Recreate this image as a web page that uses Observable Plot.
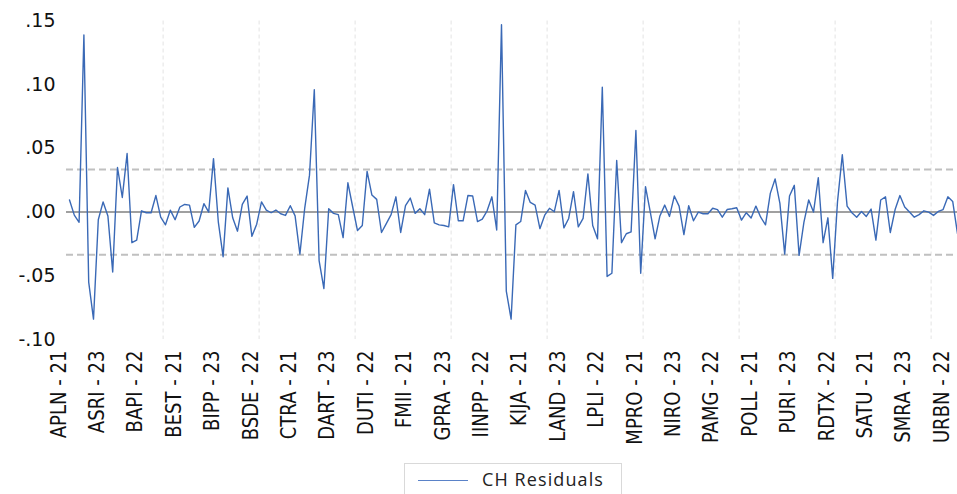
<!DOCTYPE html>
<html>
<head>
<meta charset="utf-8">
<script src="https://cdn.jsdelivr.net/npm/d3@7"></script>
<script src="https://cdn.jsdelivr.net/npm/@observablehq/plot@0.6"></script>
<style>
  html, body { margin: 0; padding: 0; background: #fff; overflow: hidden; }
  #wrap { position: relative; width: 957px; height: 494px; }
  #legend {
    position: absolute; left: 404px; top: 463px; width: 218px; height: 34px;
    border: 1px solid #d9d9d9; box-sizing: border-box; background: #fff;
    font-family: "Open Sans", sans-serif; font-size: 18px; color: #222;
  }
  #legend .sw { position: absolute; left: 13px; top: 16px; width: 50px; height: 0; border-top: 1.3px solid #5a82c8; }
  #legend .lb { position: absolute; left: 77px; top: 3px; letter-spacing: 1.1px; white-space: nowrap; }
</style>
</head>
<body>
<div id="wrap">
  <div id="chart"></div>
  <div id="legend"><div class="sw"></div><div class="lb">CH Residuals</div></div>
</div>
<script>
const residuals = [
  0.0095, -0.0024, -0.008, 0.139, -0.055, -0.084, -0.006, 0.008, -0.003, -0.047,
  0.035, 0.0115, 0.046, -0.024, -0.022, 0.001, -0.0005, -0.0005, 0.013, -0.004,
  -0.01, 0.0015, -0.006, 0.004, 0.006, 0.0055, -0.012, -0.007, 0.0066, 0,
  0.042, -0.0076, -0.035, 0.019, -0.0045, -0.015, 0.006, 0.0126, -0.019, -0.0095,
  0.008, 0.0016, -0.0005, 0.0016, -0.0013, -0.0026, 0.005, -0.003, -0.033, 0.003,
  0.029, 0.096, -0.038, -0.060, 0.0026, -0.001, -0.002, -0.020, 0.023, 0.004,
  -0.0145, -0.0105, 0.032, 0.0134, 0.010, -0.016, -0.009, -0.002, 0.012, -0.016,
  0.005, 0.011, -0.001, 0.0026, -0.002, 0.018, -0.0084, -0.010, -0.0105, -0.0116,
  0.0216, -0.0068, -0.0068, 0.013, 0.0126, -0.0074, -0.0055, 0.001, 0.012, -0.014,
  0.147, -0.062, -0.084, -0.010, -0.0074, 0.017, 0.0076, 0.0055, -0.013, -0.0024,
  0.003, 0.0003, 0.017, -0.0124, -0.005, 0.016, -0.0116, -0.005, 0.030, -0.0105,
  -0.021, 0.098, -0.0505, -0.048, 0.0405, -0.024, -0.017, -0.0155, 0.064, -0.048,
  0.020, 0, -0.021, -0.003, 0.0055, -0.0034, 0.0126, 0.0047, -0.0176, 0.005,
  -0.0068, 0, -0.0013, -0.0013, 0.003, 0.002, -0.004, 0.002, 0.0026, 0.0034,
  -0.0063, -0.0005, -0.0047, 0.0047, -0.004, -0.010, 0.0147, 0.026, 0.0068, -0.033,
  0.0126, 0.021, -0.034, -0.008, 0.0095, 0, 0.027, -0.024, -0.0045, -0.052,
  0.008, 0.045, 0.0047, -0.0005, -0.004, 0.0005, -0.0034, 0.0024, -0.022, 0.0095,
  0.012, -0.016, 0.002, 0.013, 0.004, 0, -0.004, -0.002, 0.001, 0,
  -0.0026, 0.0005, 0.002, 0.012, 0.0084, -0.017
];

// x-axis tick labels (one every 8 observations)
const tickLabels = [
  "APLN - 21", "ASRI - 23", "BAPI - 22", "BEST - 21", "BIPP - 23", "BSDE - 22",
  "CTRA - 21", "DART - 23", "DUTI - 22", "FMII - 21", "GPRA - 23", "IINPP - 22",
  "KIJA - 21", "LAND - 23", "LPLI - 22", "MPRO - 21", "NIRO - 23", "PAMG - 22",
  "POLL - 21", "PURI - 23", "RDTX - 22", "SATU - 21", "SMRA - 23", "URBN - 22"
];
const tickStep = 8;
const yTicks = [-0.10, -0.05, 0.00, 0.05, 0.10, 0.15];
const bandLimits = [0.0335, -0.0335];
const gridEvery = 20;

const data = residuals.map((v, i) => ({i, v}));
const ticks = tickLabels.map((label, k) => ({i: k * tickStep, label}));
const grid = d3.range(gridEvery - 0.5, residuals.length, gridEvery);

const fmt = d => {
  const s = d3.format(".2f")(Math.abs(d)).replace(/^0/, "");
  return (d < 0 ? "-" : "") + s;
};

const chart = Plot.plot({
  width: 957,
  height: 458,
  marginLeft: 66,
  marginRight: 0,
  marginTop: 20.5,
  marginBottom: 119,
  x: {domain: [-0.625, residuals.length - 1], axis: null},
  y: {domain: [-0.10, 0.15], axis: null},
  style: {background: "#fff", overflow: "visible"},
  marks: [
    Plot.ruleX(grid, {x: d => d, stroke: "#e3e3e3", strokeWidth: 1, strokeDasharray: "4,3"}),
    Plot.ruleY(bandLimits, {y: d => d, stroke: "#c0c0c0", strokeWidth: 2, strokeDasharray: "7,4"}),
    Plot.ruleY([0], {stroke: "#a0a0a0", strokeWidth: 2}),
    Plot.axisY({ticks: yTicks, tickSize: 0, tickPadding: 11, tickFormat: fmt,
      fontSize: 19, fontFamily: "DejaVu Sans", fill: "#111", label: null,
      style: {letterSpacing: "1.5px"}}),
    Plot.text(ticks, {x: "i", text: "label", frameAnchor: "bottom", rotate: -90,
      textAnchor: "end", dy: 11, dx: -4, fontSize: 21,
      fontFamily: "DejaVu Sans, sans-serif", fill: "#111"}),
    Plot.line(data, {x: "i", y: "v", stroke: "#3a69b6", strokeWidth: 1.4})
  ]
});
// narrow the rotated category labels (condensed look of the original)
d3.select(chart).selectAll("text").each(function() {
  const t = this.getAttribute("transform") || "";
  if (t.includes("rotate")) this.setAttribute("transform", t + " scale(0.86,1)");
});
document.getElementById("chart").appendChild(chart);
</script>
</body>
</html>
